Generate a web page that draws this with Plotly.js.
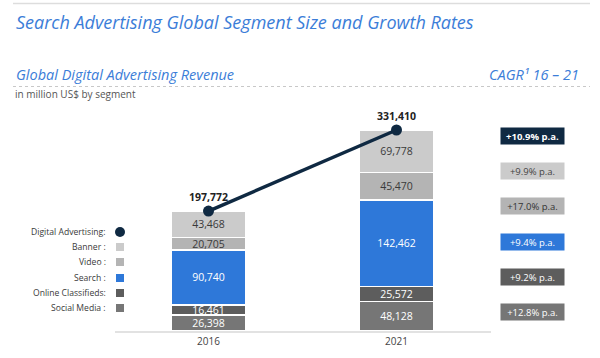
<!DOCTYPE html>
<html>
<head>
<meta charset="utf-8">
<script src="https://cdn.plot.ly/plotly-3.0.1.min.js"></script>
<style>html,body{margin:0;padding:0;background:#fff}#chart{width:600px;height:358px}</style>
</head>
<body>
<div id="chart"></div>
<script>
// ---- data ----
var years = ['2016', '2021'];
var socialMedia = [26398, 48128];
var onlineClassifieds = [16461, 25572];
var search = [90740, 142462];
var video = [20705, 45470];
var banner = [43468, 69778];
var digitalAdvertising = [197772, 331410];
var legendLabels = ['Digital Advertising:', 'Banner :', 'Video :', 'Search :', 'Online Classifieds:', 'Social Media :'];
var cagrLabels = ['+10.9% p.a.', '+9.9% p.a.', '+17.0% p.a.', '+9.4% p.a.', '+9.2% p.a.', '+12.8% p.a.'];

// ---- styles ----
var FONT = 'Open Sans, Noto Sans, sans-serif';
var BLUE_TITLE = '#3b7dd8';
var colors = {
  total: '#0f2942', banner: '#cbcbcb', video: '#b4b4b4', search: '#2e78d9',
  classifieds: '#5d5d5d', social: '#767676'
};
var legendColors = [colors.total, colors.banner, colors.video, colors.search, colors.classifieds, colors.social];
var cagrText = ['#ffffff', '#444444', '#333333', '#ffffff', '#ffffff', '#ffffff'];

function px(x) { return x / 600; }
function py(y) { return 1 - y / 358; }

function barTrace(name, vals, color, textColor) {
  return {
    type: 'bar', name: name, x: years, y: vals,
    marker: { color: color, line: { color: '#ffffff', width: 1.2 } },
    texttemplate: '%{y:,}', textposition: 'inside', insidetextanchor: 'middle',
    constraintext: 'none', textangle: 0,
    textfont: { family: FONT, size: 10.5, color: textColor },
    hoverinfo: 'skip', showlegend: false
  };
}

var traces = [
  barTrace('Social Media', socialMedia, colors.social, '#ffffff'),
  barTrace('Online Classifieds', onlineClassifieds, colors.classifieds, '#ffffff'),
  barTrace('Search', search, colors.search, '#ffffff'),
  barTrace('Video', video, colors.video, '#3a3a3a'),
  barTrace('Banner', banner, colors.banner, '#3a3a3a'),
  {
    type: 'scatter', mode: 'lines+markers+text', name: 'Digital Advertising',
    x: years, y: digitalAdvertising,
    line: { color: colors.total, width: 3.5 },
    marker: { color: colors.total, size: 11 },
    texttemplate: '<b>%{y:,}</b>', textposition: 'top center',
    textfont: { family: FONT, size: 10.5, color: '#222222' },
    cliponaxis: false, hoverinfo: 'skip', showlegend: false
  }
];

var annotations = [];
var shapes = [];

// headers
annotations.push({ xref: 'paper', yref: 'paper', x: px(14), y: py(22), xanchor: 'left', yanchor: 'middle',
  text: '<i>Search Advertising Global Segment Size and Growth Rates</i>', showarrow: false,
  font: { family: FONT, size: 18, color: BLUE_TITLE } });
annotations.push({ xref: 'paper', yref: 'paper', x: px(14), y: py(74), xanchor: 'left', yanchor: 'middle',
  text: '<i>Global Digital Advertising Revenue</i>', showarrow: false,
  font: { family: FONT, size: 14.5, color: BLUE_TITLE } });
annotations.push({ xref: 'paper', yref: 'paper', x: px(581), y: py(74), xanchor: 'right', yanchor: 'middle',
  text: '<i>CAGR¹ 16 – 21</i>', showarrow: false,
  font: { family: FONT, size: 14.5, color: BLUE_TITLE } });
annotations.push({ xref: 'paper', yref: 'paper', x: px(13), y: py(94), xanchor: 'left', yanchor: 'middle',
  text: 'in million US$ by segment', showarrow: false,
  font: { family: FONT, size: 10, color: '#555555' } });

shapes.push({ type: 'line', xref: 'paper', yref: 'paper', x0: px(13), x1: px(590), y0: py(3.5), y1: py(3.5),
  line: { color: '#dddddd', width: 1.5 } });
shapes.push({ type: 'line', xref: 'paper', yref: 'paper', x0: px(13), x1: px(590), y0: py(86.5), y1: py(86.5),
  line: { color: '#c8c8c8', width: 1, dash: 'dot' } });

// legend
var legendY = [232, 247, 262, 278, 293, 308];
for (var i = 0; i < legendLabels.length; i++) {
  annotations.push({ xref: 'paper', yref: 'paper', x: px(108), y: py(legendY[i]), xanchor: 'right', yanchor: 'middle',
    text: legendLabels[i], showarrow: false, font: { family: FONT, size: 8.6, color: '#3a3a3a' } });
  if (i === 0) {
    shapes.push({ type: 'circle', xref: 'paper', yref: 'paper', x0: px(115), x1: px(125),
      y0: py(legendY[i] + 5), y1: py(legendY[i] - 5), fillcolor: legendColors[i], line: { width: 0 } });
  } else {
    shapes.push({ type: 'rect', xref: 'paper', yref: 'paper', x0: px(116), x1: px(124),
      y0: py(legendY[i] + 4), y1: py(legendY[i] - 4), fillcolor: legendColors[i], line: { width: 0 } });
  }
}

// CAGR badges
var cagrY = [136, 171, 206, 242, 277, 312];
for (var j = 0; j < cagrLabels.length; j++) {
  annotations.push({ xref: 'paper', yref: 'paper', x: px(532.5), y: py(cagrY[j]), xanchor: 'center', yanchor: 'middle',
    text: j === 0 ? '<b>' + cagrLabels[j] + '</b>' : cagrLabels[j], showarrow: false,
    width: 63, height: 16, borderpad: 0, bgcolor: legendColors[j], align: 'center',
    font: { family: FONT, size: 9.5, color: cagrText[j] } });
}

var layout = {
  width: 600, height: 358,
  margin: { l: 0, r: 0, t: 0, b: 0 },
  paper_bgcolor: '#ffffff', plot_bgcolor: '#ffffff',
  barmode: 'stack', bargap: 0.604,
  showlegend: false,
  xaxis: {
    type: 'category', range: [-0.5, 1.5], domain: [114.5 / 600, 490.5 / 600],
    showline: true, linecolor: '#e2e2e2', linewidth: 1.5, ticks: '', showgrid: false, zeroline: false,
    tickfont: { family: FONT, size: 10, color: '#444444' }, fixedrange: true
  },
  yaxis: {
    visible: false, range: [0, 364400], domain: [27 / 358, 248 / 358], fixedrange: true
  },
  annotations: annotations,
  shapes: shapes
};

Plotly.newPlot('chart', traces, layout, { displayModeBar: false, staticPlot: true });
</script>
</body>
</html>
